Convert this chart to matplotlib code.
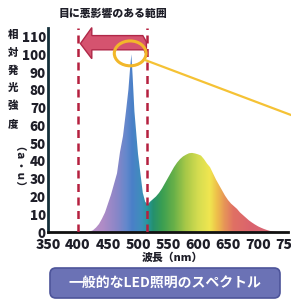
import numpy as np
import matplotlib
matplotlib.use('Agg')
import matplotlib.pyplot as plt
from matplotlib.colors import LinearSegmentedColormap
from matplotlib.patches import PathPatch, Ellipse, Polygon, FancyBboxPatch
from matplotlib.lines import Line2D

plt.rcParams['font.family'] = ['Noto Sans CJK JP', 'DejaVu Sans']

# spectrum of a typical white LED
wavelength = [350, 415, 420, 425, 430, 435, 440, 445, 450, 455, 460, 465, 470, 475,
              480, 484, 487, 489, 491, 494, 497, 500, 504, 508, 512, 516, 520, 525,
              530, 535, 540, 545, 550, 555, 560, 565, 570, 575, 580, 585, 590, 595,
              600, 605, 610, 615, 620, 625, 630, 635, 640, 645, 650, 655, 660, 665,
              670, 675, 680, 685, 690, 695, 700, 705, 710, 715, 720, 725, 730, 735, 750]
intensity = [0, 0, 0.3, 1, 2.5, 4.5, 7.5, 11, 16, 21, 27, 33, 45, 54,
             68, 80, 93, 100, 88, 68, 56, 44, 33, 22, 17, 15.5, 17, 18.5,
             20, 22, 24.5, 27.5, 30.5, 33.5, 36.5, 39, 41, 42.5, 43.5, 44.3, 44.5, 44.2,
             43.7, 43, 41, 38.5, 36.5, 33, 29.5, 26.5, 23.5, 20.5, 18, 16, 14.5, 13,
             11, 9.5, 8, 6.5, 5.3, 4.2, 3.2, 2.4, 1.7, 1.1, 0.6, 0.3, 0.1, 0, 0]

harmful_range = [400, 515]
xticks = [350, 400, 450, 500, 550, 600, 650, 700, 750]
yticks = [0, 10, 20, 30, 40, 50, 60, 70, 80, 90, 100, 110]

# colours along the wavelength axis
grad_stops = [(350, '#c496cc'), (400, '#c496cc'), (440, '#b08cc6'), (465, '#8886c8'),
              (480, '#6488cc'), (490, '#4a80c8'), (505, '#3f8ebc'), (515, '#2898a0'),
              (525, '#24906e'), (540, '#3a9e52'), (560, '#68b048'), (580, '#a8c848'),
              (600, '#d4dc50'), (620, '#f0e650'), (632, '#eec04a'), (645, '#e69458'),
              (660, '#e07064'), (690, '#da626e'), (750, '#d66e7a')]
cmap = LinearSegmentedColormap.from_list(
    'spec', [((w - 350) / 400, c) for w, c in grad_stops])

W, H = 291, 299
fig = plt.figure(figsize=(W / 100, H / 100), dpi=100)
fig.patch.set_facecolor('white')
ax = fig.add_axes([48 / W, 1 - 232 / H, 240 / W, 204.4 / H])
ax.set_xlim(350, 750)
ax.set_ylim(0, 115)

# gradient fill clipped to the spectrum
poly = ax.fill_between(wavelength, intensity, color='none', lw=0)
path = poly.get_paths()[0]
clip = PathPatch(path, transform=ax.transData, facecolor='none', edgecolor='none')
ax.add_patch(clip)
grad = np.linspace(350, 750, 800).reshape(1, -1)
img = ax.imshow(grad, extent=[350, 750, 0, 115], aspect='auto', cmap=cmap,
                vmin=350, vmax=750, origin='lower', zorder=1)
img.set_clip_path(clip)

# dashed limits of the harmful range
for xv in harmful_range:
    ax.axvline(xv, color='#b5203f', lw=1.8, ls=(0, (3.2, 2.2)), zorder=3)

# red arrow pointing left
arrow = Polygon([(404, 106), (423, 115), (423, 110.5), (508, 110.5), (514, 107),
                 (514, 99.5), (510, 102.5), (423, 102.5), (423, 97.5)],
                closed=True, facecolor='#d5536f', edgecolor='#b02848', lw=1,
                zorder=4, clip_on=False)
ax.add_patch(arrow)

# circle round the peak
ax.add_patch(Ellipse((487, 100.5), 53, 14, fill=False, edgecolor='#f2b72a',
                     lw=2.2, zorder=5, clip_on=False))
fig.add_artist(Line2D([145 / W, 1.0], [1 - 60 / H, 1 - 115 / H],
                      color='#f5c235', lw=1.6, zorder=5))

ax.spines['top'].set_visible(False)
ax.spines['right'].set_visible(False)
ax.spines['left'].set_color('#15303a')
ax.spines['left'].set_linewidth(2)
ax.spines['bottom'].set_color('#111111')
ax.spines['bottom'].set_linewidth(2)
ax.set_xticks(xticks)
ax.set_yticks(yticks)
ax.tick_params(axis='x', length=0, pad=4, labelsize=10, labelcolor='#1e1e28')
ax.tick_params(axis='y', length=0, pad=1.5, labelsize=9.6, labelcolor='#1e1e28')
for lab in ax.get_xticklabels() + ax.get_yticklabels():
    lab.set_fontweight('heavy')

# titles and labels
fig.text(113 / W, 1 - 14 / H, '目に悪影響のある範囲', ha='center', va='center',
         fontsize=7.8, fontweight='heavy', color='#1e1e28')
for ch, ypx in zip('相対発光強度', [35, 53, 71, 88, 106, 124]):
    fig.text(13 / W, 1 - ypx / H, ch, ha='center', va='center', fontsize=7.5,
             fontweight='heavy', color='#1e1e28')
fig.text(13 / W, 1 - 172 / H, '（ａ・ｕ）', ha='center', va='center', rotation=-90,
         fontsize=7.5, fontweight='heavy', color='#1e1e28')
fig.text(172 / W, 1 - 258 / H, '波長（nm）', ha='center', va='center',
         fontsize=7.8, fontweight='heavy', color='#1e1e28')

# caption box
box = FancyBboxPatch((50 / W, 1 - 298 / H), 230 / W, 30 / H,
                     boxstyle='round,pad=0,rounding_size=0.02',
                     transform=fig.transFigure, facecolor='#6b72b5',
                     edgecolor='#4d549a', lw=1.2)
fig.add_artist(box)
fig.text(165 / W, 1 - 283 / H, '一般的なLED照明のスペクトル', ha='center', va='center',
         fontsize=10, fontweight='bold', color='white')

fig.savefig('out.png', dpi=100)
